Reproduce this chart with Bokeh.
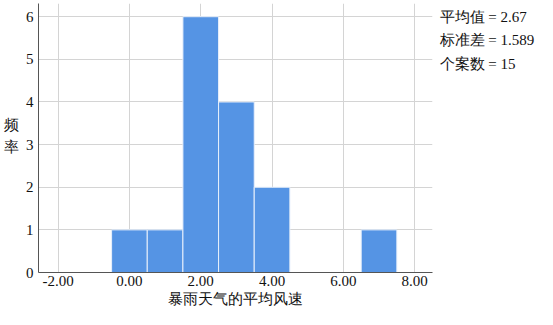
from bokeh.plotting import figure
from bokeh.models import FixedTicker, ColumnDataSource, LinearAxis
from bokeh.embed import file_html
from bokeh.resources import INLINE

# data
bin_left = [-0.5, 0.5, 1.5, 2.5, 3.5, 4.5, 5.5, 6.5]
bin_right = [0.5, 1.5, 2.5, 3.5, 4.5, 5.5, 6.5, 7.5]
counts = [1, 1, 6, 4, 2, 0, 0, 1]
x_ticks = [-2, 0, 2, 4, 6, 8]
x_tick_labels = ["-2.00", "0.00", "2.00", "4.00", "6.00", "8.00"]
y_ticks = [0, 1, 2, 3, 4, 5, 6]
stats_lines = ["平均值 = 2.67", "标准差 = 1.589", "个案数 = 15"]
x_title = "暴雨天气的平均风速"
y_title_chars = ["频", "率"]

FONT = "Liberation Serif"
TXT = "#111111"
FS = "15px"

# vertical placement (in count units) of the side texts
stats_pos = [6, 5.45, 4.9]
ytitle_pos = [3.47, 2.95]

p = figure(width=537, height=309, output_backend="svg", toolbar_location=None,
           x_range=(-2.55, 8.5), y_range=(0, 6.31))
p.min_border_left = 38
p.min_border_right = 0
p.min_border_top = 3
p.min_border_bottom = 0
p.outline_line_color = None
p.background_fill_color = "white"
p.border_fill_color = "white"

src = ColumnDataSource(dict(left=bin_left, right=bin_right, top=counts,
                            bottom=[0] * len(counts)))
p.quad(left="left", right="right", top="top", bottom="bottom", source=src,
       fill_color="#5594e4", line_color="#e8f0fb", line_width=1)

p.xaxis.ticker = FixedTicker(ticks=x_ticks)
p.xaxis.major_label_overrides = {t: l for t, l in zip(x_ticks, x_tick_labels)}
p.yaxis.ticker = FixedTicker(ticks=y_ticks)


def style_labels(ax, standoff):
    ax.major_tick_line_color = None
    ax.minor_tick_line_color = None
    ax.major_tick_out = 0
    ax.major_tick_in = 0
    ax.minor_tick_out = 0
    ax.minor_tick_in = 0
    ax.major_label_text_font = FONT
    ax.major_label_text_font_size = FS
    ax.major_label_text_color = TXT
    ax.major_label_standoff = standoff


for ax in (p.xaxis[0], p.yaxis[0]):
    ax.axis_line_color = "#555555"
    ax.axis_line_width = 1
style_labels(p.xaxis[0], 3)
style_labels(p.yaxis[0], 5)

p.xaxis.axis_label = x_title
p.xaxis.axis_label_text_font = FONT
p.xaxis.axis_label_text_font_size = FS
p.xaxis.axis_label_text_font_style = "normal"
p.xaxis.axis_label_text_color = TXT
p.xaxis.axis_label_standoff = 2

p.xgrid.grid_line_color = "#d4d4d4"
p.ygrid.grid_line_color = "#d4d4d4"

# y title: stacked characters, as an outer label-only axis
yt_axis = LinearAxis(ticker=FixedTicker(ticks=ytitle_pos),
                     major_label_overrides={t: c for t, c in zip(ytitle_pos, y_title_chars)})
yt_axis.axis_line_color = None
style_labels(yt_axis, 4)
p.add_layout(yt_axis, "left")

# stats box as a right label-only axis
st_axis = LinearAxis(ticker=FixedTicker(ticks=stats_pos),
                     major_label_overrides={t: s for t, s in zip(stats_pos, stats_lines)})
st_axis.axis_line_color = None
style_labels(st_axis, 7)
p.add_layout(st_axis, "right")

open("out.html", "w").write(file_html(p, INLINE))
